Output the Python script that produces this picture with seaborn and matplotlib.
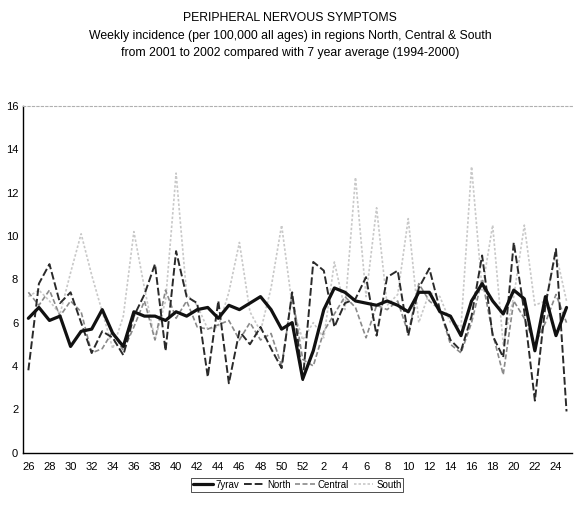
import matplotlib
matplotlib.use("Agg")
import matplotlib.pyplot as plt
from matplotlib import font_manager
import seaborn as sns
import pandas as pd
import numpy as np

weeks = list(range(26, 53)) + list(range(1, 26))

avg7 = [6.2, 6.7, 6.1, 6.3, 4.9, 5.6, 5.7, 6.6, 5.5, 4.9,
        6.5, 6.3, 6.3, 6.1, 6.5, 6.3, 6.6, 6.7, 6.2, 6.8,
        6.6, 6.9, 7.2, 6.6, 5.7, 6.0, 3.4, 4.7, 6.6, 7.6,
        7.4, 7.0, 6.9, 6.8, 7.0, 6.8, 6.5, 7.4, 7.4, 6.5,
        6.3, 5.4, 7.0, 7.8, 7.0, 6.4, 7.5, 7.1, 4.7, 7.2,
        5.4, 6.7]
north = [3.8, 7.8, 8.7, 6.9, 7.4, 6.0, 4.6, 5.6, 5.3, 4.5,
         6.3, 7.3, 8.7, 4.7, 9.3, 7.2, 6.9, 3.5, 7.0, 3.2,
         5.6, 5.0, 5.8, 4.8, 3.9, 7.4, 3.3, 8.8, 8.4, 5.8,
         6.9, 7.1, 8.1, 5.4, 8.1, 8.4, 5.4, 7.6, 8.5, 6.6,
         5.2, 4.7, 6.3, 9.1, 5.4, 4.4, 9.7, 6.5, 2.4, 6.8,
         9.4, 1.9]
central = [7.4, 6.8, 7.5, 6.3, 7.0, 6.5, 4.6, 4.8, 5.6, 4.7,
           5.8, 7.0, 5.2, 7.5, 6.2, 7.0, 5.8, 5.7, 5.9, 6.1,
           5.2, 6.0, 5.2, 5.5, 4.0, 7.3, 4.3, 4.0, 5.6, 6.4,
           7.2, 6.7, 5.3, 6.8, 6.6, 7.0, 5.5, 7.8, 7.0, 6.6,
           5.0, 4.6, 6.0, 8.0, 5.5, 3.6, 7.0, 6.2, 5.0, 6.0,
           7.3, 6.0]
south = [7.2, 7.5, 7.0, 6.4, 8.3, 10.1, 8.2, 6.5, 4.8, 6.3,
         10.2, 7.6, 5.2, 7.0, 12.9, 7.3, 6.8, 5.7, 5.8, 7.4,
         9.7, 6.5, 5.6, 7.6, 10.5, 6.8, 5.2, 6.0, 5.3, 8.8,
         6.6, 12.7, 7.2, 11.3, 6.8, 7.3, 10.8, 6.0, 7.4, 7.2,
         6.0, 5.8, 13.2, 7.5, 10.5, 5.0, 7.2, 10.5, 6.8, 7.0,
         9.2, 7.0]

series_names = ["7yrav", "North", "Central", "South"]
y_ticks = [0, 2, 4, 6, 8, 10, 12, 14, 16]

title_lines = ["PERIPHERAL NERVOUS SYMPTOMS",
               "Weekly incidence (per 100,000 all ages) in regions North, Central & South",
               "from 2001 to 2002 compared with 7 year average (1994-2000)"]

sns.set_style("white")
avail = {f.name for f in font_manager.fontManager.ttflist}
fam = "Liberation Sans Narrow" if "Liberation Sans Narrow" in avail else "Liberation Sans"
plt.rcParams["font.family"] = [fam, "DejaVu Sans"]
plt.rcParams["text.color"] = "black"
plt.rcParams["xtick.color"] = "black"
plt.rcParams["ytick.color"] = "black"

idx = np.arange(len(weeks))
df = pd.DataFrame({"idx": np.tile(idx, 4),
                   "value": avg7 + north + central + south,
                   "series": np.repeat(series_names, len(weeks))})

fig = plt.figure(figsize=(5.77, 5.12), dpi=100)
ax = fig.add_axes([0.040, 0.116, 0.951, 0.677])

styles = {
    "7yrav": dict(color="#111111", lw=2.3, ls="-"),
    "North": dict(color="#2a2a2a", lw=1.4, ls=(0, (4, 1.5))),
    "Central": dict(color="#8a8a8a", lw=1.2, ls=(0, (3, 1.5))),
    "South": dict(color="#c8c8c8", lw=1.2, ls=(0, (1.5, 1.2))),
}
for name in ["South", "Central", "North", "7yrav"]:
    sub = df[df["series"] == name]
    st = styles[name]
    sns.lineplot(data=sub, x="idx", y="value", ax=ax, color=st["color"],
                 linewidth=st["lw"], linestyle=st["ls"], label=name,
                 zorder=3 if name != "7yrav" else 4)

ax.set_xlim(-0.5, len(weeks) - 0.5)
ax.set_ylim(0, 16)
ax.set_yticks(y_ticks)
ax.set_yticklabels([str(v) for v in y_ticks], fontsize=8)
ax.set_xticks(idx[::2])
ax.set_xticklabels([str(w) for w in weeks[::2]], fontsize=8)
ax.set_xticks(np.arange(-0.5, len(weeks), 1), minor=True)
ax.tick_params(axis="x", which="major", length=0, pad=7, labelcolor="black")
ax.tick_params(axis="x", which="minor", length=3, width=0.6, direction="inout")
ax.tick_params(axis="y", which="major", length=3, width=0.6, direction="inout", pad=2,
               labelcolor="black")
ax.set_xlabel("")
ax.set_ylabel("")

ax.spines["right"].set_visible(False)
ax.spines["top"].set_color("#b0b0b0")
ax.spines["top"].set_linestyle((0, (2, 2)))
ax.spines["top"].set_linewidth(0.8)
ax.spines["left"].set_color("black")
ax.spines["left"].set_linewidth(1.0)
ax.spines["bottom"].set_color("black")
ax.spines["bottom"].set_linewidth(1.0)

handles, labels = ax.get_legend_handles_labels()
order = [labels.index(n) for n in series_names]
leg = ax.legend([handles[i] for i in order], [labels[i] for i in order],
                loc="center", bbox_to_anchor=(0.5, -0.093), ncol=4,
                fontsize=7, frameon=True, handlelength=2.0, handletextpad=0.3,
                columnspacing=0.5, borderpad=0.2, fancybox=False)
leg.get_frame().set_edgecolor("black")
leg.get_frame().set_linewidth(0.6)
for t in leg.get_texts():
    t.set_color("black")

ys = [0.965, 0.930, 0.897]
for t, y in zip(title_lines, ys):
    fig.text(0.503, y, t, ha="center", va="center", fontsize=8.8, color="black")

fig.savefig("out.png", dpi=100)
